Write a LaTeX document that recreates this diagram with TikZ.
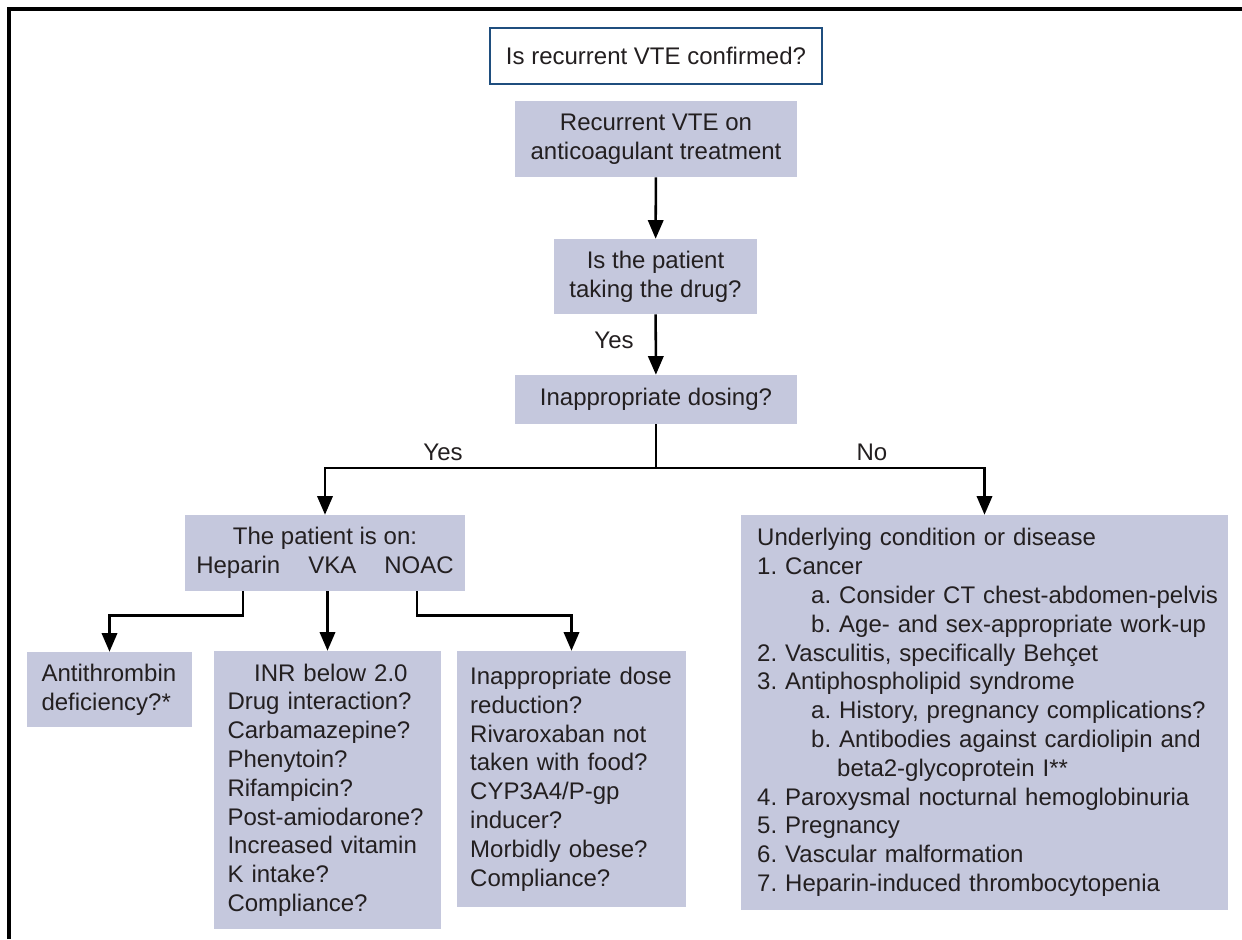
\documentclass[tikz,border=0pt]{standalone}
\usepackage{fontspec}
\setmainfont{Liberation Sans}
\usetikzlibrary{arrows.meta,positioning}
\definecolor{boxfill}{RGB}{197,200,221}
\definecolor{boxedge}{RGB}{31,78,126}
\definecolor{inkgray}{RGB}{35,31,32}
\frenchspacing

\begin{document}
\begin{tikzpicture}[x=0.75pt,y=-0.75pt,
    every node/.style={font=\fontsize{18pt}{21.6pt}\selectfont, text=inkgray},
    box/.style={fill=boxfill, inner sep=0pt, align=center},
    listbox/.style={box, align=left},
    arr/.style={line width=1.9pt, -{Triangle[length=14pt,width=11.5pt]}}]
    \useasboundingbox (0,0) rectangle (1242,939);

    % Frame
    \draw[line width=2.4pt] (9,939) -- (9,9) -- (1242,9);

    % Main column
    \node[draw=boxedge, line width=1.5pt, fill=white, inner sep=0pt,
          minimum width=249pt, minimum height=42pt] (confirm) at (656,56)
          {Is recurrent VTE confirmed?};
    \node[box, minimum width=211.5pt, minimum height=57pt] (recur) at (656,139)
          {Recurrent VTE on\\anticoagulant treatment};
    \node[box, minimum width=152.25pt, minimum height=56.25pt] (taking) at (655.5,276.5)
          {Is the patient\\taking the drug?};
    \node[box, minimum width=211.5pt, minimum height=36.75pt] (dosing) at (656,399.5)
          {Inappropriate dosing?};

    % Branches
    \node[box, minimum width=210pt, minimum height=57pt] (on) at (325,553)
          {The patient is on:\\Heparin\hspace{21pt}VKA\hspace{21pt}NOAC};
    \node[listbox, minimum width=123.75pt, minimum height=56.25pt, text width=102pt]
          (anti) at (109.5,689.5)
          {Antithrombin\\deficiency?*};
    \node[listbox, minimum width=170.25pt, minimum height=208.5pt, text width=150pt]
          (inr) at (327.5,790)
          {\hspace*{20pt}INR below 2.0\\Drug interaction?\\Carbamazepine?\\Phenytoin?\\
           Rifampicin?\\Post-amiodarone?\\Increased vitamin\\K intake?\\Compliance?};
    \node[listbox, minimum width=171.75pt, minimum height=192pt, text width=152pt]
          (noac) at (571.5,779)
          {Inappropriate dose\\reduction?\\Rivaroxaban not\\taken with food?\\
           CYP3A4/P-gp\\inducer?\\Morbidly obese?\\Compliance?};
    \node[listbox, minimum width=365.25pt, minimum height=296.25pt, text width=341pt]
          (under) at (984.5,712.5)
          {Underlying condition or disease\\
           1. Cancer\\
           \hspace*{40.5pt}\mbox{a. Consider CT chest-abdomen-pelvis}\\
           \hspace*{40.5pt}\mbox{b. Age- and sex-appropriate work-up}\\
           2. Vasculitis, specifically Behçet\\
           3. Antiphospholipid syndrome\\
           \hspace*{40.5pt}\mbox{a. History, pregnancy complications?}\\
           \hspace*{40.5pt}\mbox{b. Antibodies against cardiolipin and}\\
           \hspace*{60pt}beta2-glycoprotein I**\\
           4. Paroxysmal nocturnal hemoglobinuria\\
           5. Pregnancy\\
           6. Vascular malformation\\
           7. Heparin-induced thrombocytopenia};

    % Labels
    \node (yestake) at (614,340) {Yes};
    \node (yesdose) at (443,452) {Yes};
    \node (nodose) at (872,452) {No};

    % Connectors
    \coordinate (split) at (656,468);
    \coordinate (hepx) at (243,0);
    \coordinate (noacx) at (417,0);
    \draw[arr] (recur) -- (taking);
    \draw[arr] (taking) -- (dosing);
    \draw[arr] (dosing.south) -- (split) -| (on.north);
    \draw[arr] (split) -| (under.north);
    \draw[arr] (on.south -| hepx) -- ++(0,24) -| (anti.north);
    \draw[arr] (on.south -| inr.north) -- (inr.north);
    \draw[arr] (on.south -| noacx) -- ++(0,24) -| (noac.north);
\end{tikzpicture}
\end{document}
